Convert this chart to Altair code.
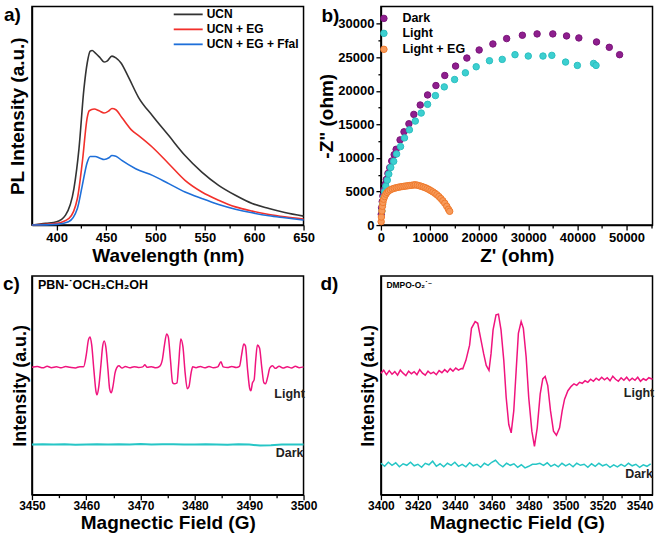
import altair as alt
import pandas as pd

FONT = "Liberation Sans"
W, H = 272, 219

# ---------------- a) PL spectra ----------------
a_names = ["UCN", "UCN + EG", "UCN + EG + Ffal"]
a_colors = ["#333333", "#F2302B", "#1E6FD9"]
a_ucn_wl = [375, 389, 400, 409, 417.5, 422.6, 427.6, 431, 434, 436, 439, 444, 448, 451, 456, 460, 465, 473, 483, 497, 513.5, 530, 547, 564, 581, 598, 615, 631, 650]
a_ucn_pl = [0, 1.7, 3.3, 10, 36.7, 76.7, 136.7, 163.3, 175, 175.7, 173.3, 168.3, 164, 165, 170, 168.3, 163.3, 148.3, 128.3, 110, 90, 70, 53.3, 40, 30, 21.7, 16.7, 12.7, 9]
a_eg_wl = [375, 400, 412.5, 421, 426, 431, 433, 438, 443, 448, 453, 456, 460, 466, 476.5, 483, 497, 513.5, 530, 547, 564, 581, 598, 615, 631, 650]
a_eg_pl = [0, 1.7, 6.7, 26.7, 63.3, 108.3, 115, 116.7, 115, 112.7, 115, 117.3, 116, 108.3, 95, 90, 78.3, 61.7, 45, 33.3, 25, 18.3, 14, 10.7, 8.3, 6]
a_ffal_wl = [375, 400, 412, 421, 426, 431, 434, 439, 444, 448, 453, 456, 460, 466, 480, 497, 513.5, 530, 547, 564, 581, 598, 615, 631, 650]
a_ffal_pl = [0, 0.7, 3.3, 16.7, 40, 63.3, 69, 69, 67.3, 66, 67.7, 70, 69.3, 65, 56.7, 50, 41.7, 33.3, 26.7, 20.7, 16, 12.3, 9.3, 7.3, 5]
a_ticks = [400, 425, 450, 475, 500, 525, 550, 575, 600, 625, 650]

# ---------------- b) Nyquist ----------------
b_names = ["Dark", "Light", "Light + EG"]
b_fill = ["#8E1F8E", "#3CCFD0", "#F79A5A"]
b_stroke = ["#7A1479", "#2BBFC0", "#EE7A2E"]
b_size = [42, 42, 16]
b_dark_re = [70, 140, 270, 400, 600, 880, 1100, 1430, 1800, 2200, 2700, 3100, 3900, 4700, 5700, 6700, 8000, 9500, 11200, 13000, 15200, 17500, 20000, 22800, 25600, 28800, 31800, 35000, 37800, 40300, 43900, 46500, 48600]
b_dark_im = [1600, 2600, 3500, 4350, 5200, 6100, 6800, 7700, 8560, 9550, 10500, 11300, 12700, 13900, 15100, 16500, 17900, 19400, 20800, 22300, 23700, 24900, 26100, 27000, 27800, 28300, 28500, 28500, 28200, 27900, 27300, 26500, 25400]
b_light_re = [200, 340, 550, 750, 1000, 1300, 1600, 2000, 2600, 3200, 4000, 4800, 5800, 7000, 8200, 9500, 11100, 12900, 15000, 17200, 19400, 22100, 24700, 27300, 30000, 33000, 34800, 37600, 40000, 43300, 43800]
b_light_im = [2100, 3100, 4100, 5000, 5800, 6700, 7600, 8600, 9500, 10600, 11700, 13000, 14200, 15500, 16700, 18000, 19300, 20600, 21700, 22700, 23600, 24500, 24700, 25400, 25200, 25200, 25300, 24300, 23800, 24100, 23800]
b_eg_re = [50, 100, 200, 300, 400, 550, 750, 1000, 1250, 1550, 1900, 2300, 2700, 3100, 3500, 3900, 4300, 4700, 5100, 5500, 5900, 6300, 6700, 7000, 7400, 7800, 8200, 8600, 9000, 9400, 9800, 10200, 10600, 11000, 11400, 11800, 12200, 12600, 13000, 13400, 13750, 14000]
b_eg_im = [500, 1200, 2100, 2800, 3370, 3850, 4250, 4600, 4870, 5080, 5250, 5380, 5480, 5560, 5630, 5690, 5740, 5780, 5820, 5860, 5900, 5940, 5980, 6000, 5950, 5870, 5780, 5680, 5580, 5440, 5290, 5120, 4940, 4740, 4520, 4250, 3950, 3620, 3250, 2800, 2350, 2050]
b_xticks = [0, 5000, 10000, 15000, 20000, 25000, 30000, 35000, 40000, 45000, 50000, 55000]
b_yticks = [0, 2500, 5000, 7500, 10000, 12500, 15000, 17500, 20000, 22500, 25000, 27500, 30000]

# ---------------- c) EPR PBN ----------------
PINK = "#F0147E"
CYAN = "#26C6C6"
c_light_x = [3450.0, 3451.0, 3452.0, 3452.8, 3453.6, 3454.5, 3455.4, 3456.2, 3457.0, 3458.0,
             3458.8, 3459.5, 3460.0, 3460.4, 3460.7, 3461.0, 3461.4, 3461.8, 3462.0, 3462.3,
             3462.7, 3463.0, 3463.3, 3463.6, 3464.0, 3464.3, 3464.6, 3464.9, 3465.3, 3465.6,
             3466.0, 3466.6, 3467.2, 3468.0, 3468.8, 3469.6, 3470.4, 3470.8, 3471.2, 3472.0,
             3472.8, 3473.5, 3474.0, 3474.4, 3474.8, 3475.1, 3475.5, 3475.9, 3476.2, 3476.7,
             3477.0, 3477.4, 3477.8, 3478.2, 3478.6, 3478.9, 3479.3, 3479.6, 3480.2, 3481.0,
             3481.8, 3482.6, 3483.4, 3484.2, 3484.8, 3485.2, 3486.0, 3486.8, 3487.6, 3488.2,
             3488.6, 3489.0, 3489.3, 3489.7, 3490.1, 3490.3, 3490.6, 3490.9, 3491.2, 3491.5,
             3491.9, 3492.3, 3492.7, 3493.0, 3493.4, 3493.8, 3494.3, 3494.8, 3495.5, 3496.2,
             3497.0, 3497.8, 3498.5, 3499.2, 3500.0]
c_light_y = [127.5, 128.3, 127.0, 128.6, 127.2, 128.0, 127.0, 128.4, 127.6, 126.9,
             128.2, 128.0, 140, 155, 158, 150, 125, 103, 100, 108,
             130, 148, 154, 148, 125, 106, 102, 108, 122, 127,
             129, 126.8, 128.4, 127.0, 128.2, 127.4, 128.0, 130.0, 127.5, 128.2,
             127.0, 128.5, 135, 150, 161, 158, 135, 112, 111, 112,
             130, 156, 148, 122, 106, 108, 122, 128, 127.2, 128.4,
             127.0, 128.3, 127.2, 128.0, 133, 128, 127.3, 128.4, 127.4, 128.5,
             140, 151, 149, 125, 106, 104, 112, 115, 135, 150,
             147, 128, 112, 111, 118, 127, 129, 126.5, 128.6, 126.8,
             128.0, 126.9, 128.5, 127.2, 128.0]
c_dark_x = [3450, 3452, 3454, 3456, 3458, 3460, 3462, 3464, 3466, 3468, 3470, 3472, 3474,
            3476, 3478, 3480, 3482, 3484, 3486, 3488, 3490, 3492, 3494, 3496, 3498, 3500]
c_dark_y = [50.3, 50.5, 50.2, 50.4, 50.1, 50.3, 50.6, 50.2, 50.4, 50.3, 50.7, 50.2, 50.4,
            50.5, 50.2, 50.3, 50.6, 50.3, 50.1, 50.4, 50.2, 49.2, 49.5, 50.2, 50.3, 50.2]
c_ticks = [3450, 3455, 3460, 3465, 3470, 3475, 3480, 3485, 3490, 3495, 3500]

# ---------------- d) EPR DMPO ----------------
d_light_x = [3400, 3401.5, 3403, 3404.5, 3406, 3407.5, 3409, 3410.5, 3412, 3413.5,
             3415, 3416.5, 3418, 3419.5, 3421, 3422.5, 3424, 3425.5, 3427, 3428.5,
             3430, 3431.5, 3433, 3434.5, 3436, 3437.5, 3439, 3440.5, 3442, 3443.5,
             3444.3, 3446, 3448, 3449, 3451, 3452.4, 3453.8, 3455.6, 3457, 3458.5,
             3459.6, 3460.7, 3462.3, 3463.6, 3465, 3466.5, 3467.8, 3469.2, 3470.5, 3471.9,
             3473.2, 3474.4, 3475.9, 3477.1, 3478.6, 3480, 3481.7, 3483.1, 3484.6, 3486.2,
             3487.6, 3488.9, 3490.3, 3491.8, 3493.4, 3495, 3496.7, 3498.1, 3499.4, 3501.2,
             3503, 3504.5, 3506, 3507.5, 3509, 3510.5, 3512, 3513.5, 3515, 3516.5,
             3518, 3519.5, 3521, 3522.5, 3524, 3525.5, 3527, 3528.5, 3530, 3531.5,
             3533, 3534.5, 3536, 3537.5, 3539, 3540.5, 3542, 3543.5, 3545, 3547]
d_light_y = [120, 123, 118.5, 122.5, 119, 121.5, 118, 123, 120, 117.5,
             122, 119.5, 121.5, 118.5, 123.5, 120, 118, 122, 119.5, 121,
             118.5, 122.5, 120.5, 123.5, 121, 124.5, 122, 125, 123, 124.5,
             124.3, 132.7, 147.7, 164.3, 171, 169.3, 156, 139.3, 127.7, 122.7,
             139.3, 162.7, 177.7, 178.3, 162.7, 132.7, 96, 69.3, 61, 82.7,
             122.7, 159.3, 171, 164.3, 136, 96, 62.7, 47.7, 66, 99.3,
             114.3, 116.7, 107.7, 82.7, 62.7, 58.7, 66, 82.7, 94.3, 102.7,
             107, 109.5, 108, 111, 110, 112.5, 111, 114, 112, 115,
             113, 116, 113.5, 115.5, 112.5, 117, 114, 112, 115.5, 113,
             116, 112.5, 115, 113, 116, 112, 114.5, 113, 115.5, 114]
d_dark_x = [3400, 3402, 3404, 3406, 3408, 3410, 3412, 3414, 3416, 3418,
            3420, 3422, 3424, 3426, 3428, 3430, 3432, 3434, 3436, 3438,
            3440, 3442, 3444, 3446, 3448, 3450, 3452, 3454, 3456, 3458,
            3460, 3462, 3464, 3466, 3468, 3470, 3472, 3474, 3476, 3478,
            3480, 3482, 3484, 3486, 3488, 3490, 3492, 3494, 3496, 3498,
            3500, 3502, 3504, 3506, 3508, 3510, 3512, 3514, 3516, 3518,
            3520, 3522, 3524, 3526, 3528, 3530, 3532, 3534, 3536, 3538,
            3540, 3542, 3544, 3546]
d_dark_y = [31, 28, 32, 29, 31.5, 27.5, 30.5, 29, 32, 28.5,
            30, 27, 31, 29.5, 33, 28, 30.5, 27.5, 31, 29,
            32, 28, 30, 27.5, 31.5, 28.5, 30, 27, 31, 29,
            32, 34, 30, 27.5, 31, 29, 30.5, 27, 29.5, 26.5,
            28, 30, 30, 31, 29, 31.5, 28, 30, 27.5, 31,
            28.5, 30.5, 27.5, 31, 29, 30, 27, 30.5, 28, 31,
            28.5, 30, 27, 29.5, 27.5, 30, 28, 31, 28.5, 30,
            27, 29.5, 28, 30.5]
d_ticks = [3400, 3410, 3420, 3430, 3440, 3450, 3460, 3470, 3480, 3490, 3500, 3510, 3520, 3530, 3540]


def tick_axis(title, values, major, lab_size, title_size, **kw):
    return alt.Axis(
        title=title, values=values, format="d", labelOverlap=False,
        tickSize={"condition": {"test": f"datum.value % {major} === 0", "value": 5}, "value": 3},
        labelExpr=f"datum.value % {major} === 0 ? datum.label : ''",
        labelFontSize=lab_size, titleFontSize=title_size, **kw)


def label(txt, x, y, size, align="left", color="black", font=FONT):
    return alt.Chart(pd.DataFrame({"t": [txt]})).mark_text(
        align=align, baseline="middle", fontSize=size, fontWeight="bold",
        font=font, color=color).encode(x=alt.value(x), y=alt.value(y), text="t:N")


# ---- panel a ----
df_a = pd.concat([
    pd.DataFrame({"series": a_names[0], "wl": a_ucn_wl, "pl": a_ucn_pl}),
    pd.DataFrame({"series": a_names[1], "wl": a_eg_wl, "pl": a_eg_pl}),
    pd.DataFrame({"series": a_names[2], "wl": a_ffal_wl, "pl": a_ffal_pl}),
])
line_a = alt.Chart(df_a).mark_line(strokeWidth=1.6, interpolate="monotone").encode(
    x=alt.X("wl:Q", scale=alt.Scale(domain=[375, 650], nice=False, zero=False),
            axis=tick_axis("Wavelength (nm)", a_ticks, 50, 13, 19, titlePadding=2, labelPadding=1)),
    y=alt.Y("pl:Q", scale=alt.Scale(domain=[0, 220], nice=False),
            axis=alt.Axis(title="PL Intensity (a.u.)", labels=False, ticks=False,
                          titleFontSize=19, titlePadding=4)),
    color=alt.Color("series:N", scale=alt.Scale(domain=a_names, range=a_colors), legend=None),
    order=alt.Order("wl:Q"),
)
leg_a = []
for i, (name, col) in enumerate(zip(a_names, a_colors)):
    dd = pd.DataFrame({"series": [name]})
    yy = 8 + 15 * i
    leg_a.append(alt.Chart(dd).mark_rule(color=col, strokeWidth=1.8).encode(
        x=alt.value(142), x2=alt.value(171), y=alt.value(yy)))
    leg_a.append(alt.Chart(dd).mark_text(align="left", baseline="middle", font=FONT, fontSize=12,
                                         fontWeight="bold", color="black").encode(
        x=alt.value(175), y=alt.value(yy), text="series:N"))
chart_a = alt.layer(line_a, *leg_a, label("a)", -28, 9, 19)).properties(width=W, height=H)

# ---- panel b ----
df_b = pd.concat([
    pd.DataFrame({"series": b_names[0], "re": b_dark_re, "im": b_dark_im}),
    pd.DataFrame({"series": b_names[1], "re": b_light_re, "im": b_light_im}),
    pd.DataFrame({"series": b_names[2], "re": b_eg_re, "im": b_eg_im}),
])
pts_b = alt.Chart(df_b).mark_point(shape="circle", filled=True, opacity=1, strokeWidth=1).encode(
    x=alt.X("re:Q", scale=alt.Scale(domain=[0, 55300], nice=False, zero=False),
            axis=tick_axis("Z' (ohm)", b_xticks, 10000, 13, 19, titlePadding=2, labelPadding=1)),
    y=alt.Y("im:Q", scale=alt.Scale(domain=[0, 32600], nice=False, zero=False),
            axis=tick_axis('-Z" (ohm)', b_yticks, 5000, 13, 19, titlePadding=1)),
    fill=alt.Fill("series:N", scale=alt.Scale(domain=b_names, range=b_fill), legend=None),
    stroke=alt.Stroke("series:N", scale=alt.Scale(domain=b_names, range=b_stroke), legend=None),
    size=alt.Size("series:N", scale=alt.Scale(domain=b_names, range=b_size), legend=None),
)
leg_b = []
for i, name in enumerate(b_names):
    dd = pd.DataFrame({"series": [name]})
    yy = [12, 27, 43][i]
    leg_b.append(alt.Chart(dd).mark_point(shape="circle", filled=True, opacity=1, strokeWidth=1,
                                          size=42, fill=b_fill[i], stroke=b_stroke[i]).encode(
        x=alt.value(3), y=alt.value(yy)))
    leg_b.append(alt.Chart(dd).mark_text(align="left", baseline="middle", font=FONT, fontSize=12.5,
                                         fontWeight="bold", color="black").encode(
        x=alt.value(21.5), y=alt.value(yy), text="series:N"))
chart_b = alt.layer(pts_b, *leg_b, label("b)", -59.5, 10, 19)).properties(width=W, height=H)

# ---- panel c ----
df_c_light = pd.DataFrame({"field": c_light_x, "intensity": c_light_y})
df_c_dark = pd.DataFrame({"field": c_dark_x, "intensity": c_dark_y})
xc = alt.X("field:Q", scale=alt.Scale(domain=[3450, 3500], nice=False, zero=False),
           axis=tick_axis("Magnectic Field (G)", c_ticks, 10, 12, 19, titlePadding=2, labelPadding=1))
yc = alt.Y("intensity:Q", scale=alt.Scale(domain=[0, 219], nice=False),
           axis=alt.Axis(title="Intensity (a.u.)", labels=False, ticks=False, titleFontSize=18, titlePadding=2))
chart_c = alt.layer(
    alt.Chart(df_c_light).mark_line(color=PINK, strokeWidth=1.5, interpolate="monotone").encode(x=xc, y=yc),
    alt.Chart(df_c_dark).mark_line(color=CYAN, strokeWidth=2).encode(x=xc, y=yc),
    label("PBN-˙OCH₂CH₂OH", 6, 9, 12.5, font="Liberation Sans, DejaVu Sans"),
    label("Light", 258, 118, 12.5, align="center", color="#222222"),
    label("Dark", 258, 177, 12.5, align="center", color="#222222"),
    label("c)", -29, 8, 19),
).properties(width=W, height=H)

# ---- panel d ----
df_d_light = pd.DataFrame({"field": d_light_x, "intensity": d_light_y})
df_d_dark = pd.DataFrame({"field": d_dark_x, "intensity": d_dark_y})
xd = alt.X("field:Q", scale=alt.Scale(domain=[3400, 3547], nice=False, zero=False),
           axis=tick_axis("Magnectic Field (G)", d_ticks, 20, 12, 19, titlePadding=2, labelPadding=1))
yd = alt.Y("intensity:Q", scale=alt.Scale(domain=[0, 216], nice=False),
           axis=alt.Axis(title="Intensity (a.u.)", labels=False, ticks=False, titleFontSize=18, titlePadding=3))
chart_d = alt.layer(
    alt.Chart(df_d_light).mark_line(color=PINK, strokeWidth=1.5).encode(x=xd, y=yd),
    alt.Chart(df_d_dark).mark_line(color=CYAN, strokeWidth=1.5).encode(x=xd, y=yd),
    label("DMPO-O₂˙⁻", 5.5, 9, 8.5, font="Liberation Sans, DejaVu Sans"),
    label("Light", 258.5, 117, 12.5, align="center", color="#222222"),
    label("Dark", 258.5, 198, 12.5, align="center", color="#222222"),
    label("d)", -60.5, 8, 19),
).properties(width=W, height=H)

chart = alt.concat(chart_a, chart_b, chart_c, chart_d, columns=2).properties(
    spacing={"row": 51, "column": 77.5}, bounds="flush",
    padding={"left": 2, "top": 5, "right": 4, "bottom": 4},
    background="white",
).resolve_scale(
    x="independent", y="independent", color="independent",
    fill="independent", stroke="independent", size="independent",
).configure_view(stroke="black", strokeWidth=1.5).configure_axis(
    labelFont=FONT, titleFont=FONT, labelFontWeight="bold", titleFontWeight="bold",
    labelColor="black", titleColor="black", domainColor="black", domainWidth=1.5,
    tickColor="black", tickWidth=1.3, grid=False, labelFlush=False, labelOverlap=False,
    labelPadding=2,
)

chart.save("out.html", embed_options={"renderer": "svg", "actions": False})
